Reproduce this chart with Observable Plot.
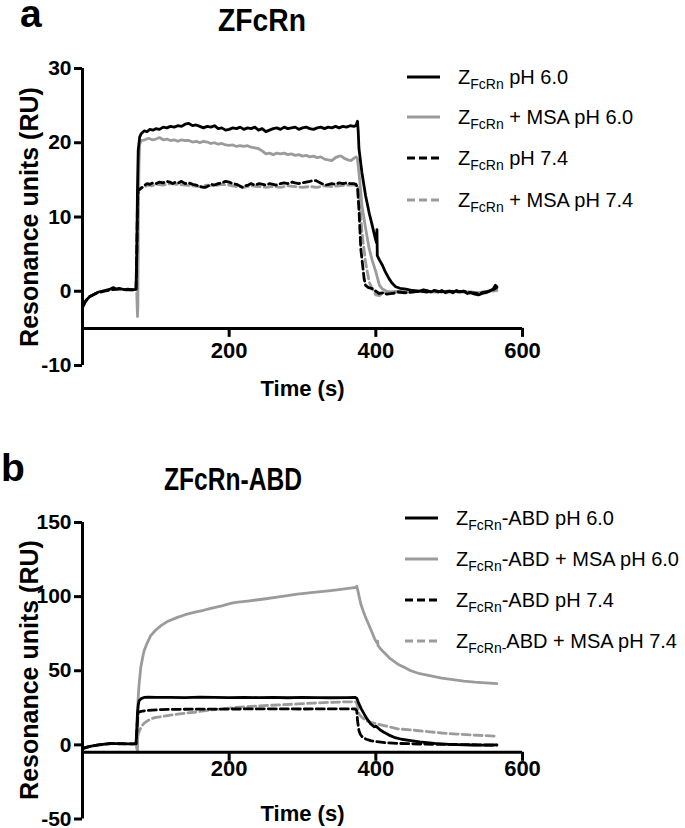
<!DOCTYPE html>
<html><head><meta charset="utf-8">
<script src="https://cdn.jsdelivr.net/npm/d3@7"></script>
<script src="https://cdn.jsdelivr.net/npm/@observablehq/plot@0.6"></script>
<style>
body{margin:0;background:#fff;}
#wrap{position:relative;width:685px;height:828px;font-family:"Liberation Sans",Arial,sans-serif;}
#wrap > svg{position:absolute;left:0;}
</style></head><body><div id="wrap"></div>
<script>
// ---- tick values ----
const xTicks = [200, 400, 600];
const aYTicks = [-10, 0, 10, 20, 30];
const bYTicks = [-50, 0, 50, 100, 150];
const xLabel = "Time (s)";
const yLabel = "Resonance units (RU)";

// ---- Panel a: ZFcRn  ([time s, RU]) ----
const aPH60 = [[0,-2.2],[2,-1.8],[4,-1.4],[7,-1.0],[10,-0.7],[14,-0.5],[18,-0.3],[22,-0.1],[26,0],[30,0.1],[34,0.2],[38,0.3],[42,0.5],[46,0.3],[50,0.4],[54,0.3],[58,0.2],[62,0.3],[66,0.2],[70,0.2],[73,0.3],
 [74,5],[75,14],[76,19],[78,20.8],[80,21.2],[84,21.6],[88,21.5],[92,21.8],[96,21.7],[100,21.9],[105,21.8],[110,22.1],[115,22.0],[120,22.2],[125,22.1],[130,22.3],[135,22.2],[140,22.5],[145,22.6],[150,22.3],[155,22.4],[160,22.2],[165,22.0],[170,22.2],[175,22.1],[180,22.3],[185,21.9],[190,22.0],[195,21.7],[200,21.8],[205,22.0],[210,21.9],[215,22.1],[220,21.8],[225,22.0],[230,21.9],[235,22.1],[240,21.7],[245,21.9],[250,21.5],[255,21.7],[260,21.9],[265,22.0],[270,21.8],[275,22.1],[280,21.9],[285,22.0],[290,22.1],[295,21.8],[300,22.0],[305,22.1],[310,21.9],[315,21.8],[320,22.0],[325,22.1],[330,21.9],[335,22.1],[340,22.0],[345,22.2],[350,22.0],[355,22.2],[360,22.1],[365,22.3],[370,22.2],[373,22.3],
 [375,22.9],[376,21.5],[377,19.2],[381,16],[386,12.9],[391,10.5],[395,8.9],[399,7.2],[401,6.5],[401.5,8.3],[402,4.8],[405,4.2],[409,3.5],[413,2.6],[418,1.7],[422,1.1],[427,0.6],[433,0.4],[441,0.3],[450,0.1],[459,0],[465,0.2],[470,0.1],[475,-0.1],[480,0.1],[485,-0.1],[490,0.1],[495,-0.2],[500,0],[505,-0.2],[510,0.1],[515,-0.1],[520,0],[525,-0.3],[530,-0.2],[535,-0.4],[540,-0.5],[545,-0.3],[550,-0.2],[555,0],[560,0.3],[563,0.8],[565,0.6]];
const aMSA60 = [[74,-0.3],[75,-3.4],[75.5,-2],[76,8],[77,17],[78,19.8],[80,20.3],[85,20.4],[90,20.6],[95,20.4],[100,20.5],[105,20.7],[110,20.4],[115,20.5],[120,20.3],[125,20.4],[130,20.2],[135,20.4],[140,20.3],[145,20.3],[150,20.1],[155,20.2],[160,20.0],[165,20.2],[170,20.1],[175,19.9],[180,20.0],[185,19.8],[190,19.9],[195,19.7],[200,19.65],[205,19.7],[210,19.5],[215,19.6],[220,19.5],[225,19.6],[230,19.4],[235,19.3],[240,19.2],[245,18.9],[250,18.5],[255,18.6],[260,18.4],[265,18.6],[270,18.5],[275,18.6],[280,18.4],[285,18.5],[290,18.3],[295,18.4],[300,18.2],[305,18.3],[310,18.1],[315,18.2],[320,18.0],[325,18.1],[330,17.8],[335,17.7],[340,17.6],[345,18.0],[350,18.2],[353,18.2],[357,17.9],[362,17.7],[366,17.6],[370,17.9],[373,18.1],[375,17.8],
 [378,15],[381,11.6],[386,8.5],[391,5.7],[395,4.2],[400,2.6],[403,1.5],[405,0.8],[409,0.3],[415,0],[420,-0.1],[430,0],[440,-0.1],[460,0],[480,-0.1],[500,0],[520,-0.1],[540,-0.2],[565,0.2]];
const aPH74 = [[0,-2],[5,-1.2],[10,-0.7],[20,-0.2],[30,0],[40,0.2],[50,0.3],[60,0.2],[70,0.2],[73,0.2],[74,5],[75,12],[76,13.6],[80,13.9],[84,14.2],[88,14.5],[92,14.4],[96,14.6],[100,14.5],[105,14.7],[110,14.6],[115,14.8],[119,14.7],[123,14.5],[127,14.7],[131,14.6],[135,14.8],[140,14.5],[145,14.6],[150,14.4],[155,14.3],[160,14.1],[165,14.0],[168,14.0],[172,14.2],[176,14.4],[180,14.3],[185,14.5],[190,14.6],[195,14.8],[200,14.7],[205,14.5],[210,14.4],[214,14.2],[218,14.0],[222,14.2],[226,14.3],[230,14.5],[235,14.3],[241,14.5],[246,14.4],[250,14.3],[255,14.5],[260,14.4],[264,14.3],[270,14.5],[275,14.6],[280,14.5],[286,14.7],[290,14.6],[295,14.5],[300,14.6],[305,14.7],[310,14.8],[314,14.9],[318,14.9],[322,14.7],[326,14.5],[332,14.3],[336,14.4],[340,14.5],[345,14.4],[350,14.6],[355,14.5],[360,14.6],[365,14.5],[370,14.5],[373,14.4],
 [375,14],[377,11],[379.5,5.7],[382,3.5],[384,1.7],[386,0.8],[390,0.5],[395.5,0.35],[400,0],[404.5,-0.3],[410,-0.2],[415,-0.4],[423,-0.3],[430,-0.1],[440,-0.2],[450,-0.1],[460,0],[470,-0.1],[480,0.1],[490,-0.1],[500,0],[510,-0.1],[520,0],[530,-0.2],[540,-0.3],[550,-0.1],[560,0.2],[565,0.5]];
const aMSA74 = [[74,0.2],[75,10],[76,13.5],[80,13.9],[85,14.1],[90,14.3],[95,14.2],[100,14.4],[110,14.3],[120,14.5],[130,14.4],[140,14.3],[150,14.2],[160,14.1],[170,14.3],[180,14.2],[190,14.4],[200,14.3],[210,14.1],[220,14.0],[230,14.2],[240,14.1],[250,14.0],[260,14.1],[270,14.0],[280,14.2],[290,14.1],[300,14.0],[310,14.1],[320,14.0],[330,14.2],[340,14.1],[350,14.2],[360,14.3],[370,14.3],[375,14.2],
 [377,13.8],[381,8],[386,3.9],[391,1.25],[395,0.3],[400,-0.5],[405,-0.6],[409,-0.3],[415,-0.2],[420,-0.3],[430,-0.1],[440,-0.2],[450,0],[460,-0.1],[480,0],[500,-0.1],[520,0],[540,-0.2],[565,0.1]];

// ---- Panel b: ZFcRn-ABD ----
const bPH60 = [[0,-2.7],[3,-2.0],[6,-1.5],[10,-1.0],[16,-0.5],[22,0],[30,0.5],[38,1],[46,0.8],[54,0.9],[62,0.7],[70,0.7],[73,0.8],[74,10],[75,22],[76,27],[77.2,29.8],[80,31.2],[84,32],[90,32.2],[100,32],[120,32.1],[140,31.9],[160,32.2],[180,32],[200,31.9],[220,32.1],[240,31.9],[260,32],[280,31.8],[300,32],[320,31.9],[340,31.8],[360,31.9],[372,32],
 [374,31.5],[377,27.6],[380,24.5],[384,20.9],[388,17.5],[393,14.1],[398,12.2],[400,12.6],[402,11.9],[406,10],[411,8.5],[418,6.6],[425,5.1],[435,3.8],[447.7,2.9],[460,2.0],[470,1.5],[480,1.0],[490,0.7],[500,0.4],[510,0.2],[520,0],[530,-0.1],[540,-0.2],[550,-0.2],[560,-0.1],[565,0]];
const bMSA60 = [[74,-1],[75,-5],[75.7,29.9],[77,40],[79.5,52.3],[82,59],[84,63.5],[88,68.5],[93,73.7],[100,77.5],[107,80.4],[115,83],[129.5,86],[140,87.8],[152,89.4],[165,90.8],[175,92],[190,93.8],[202,95.4],[209,96.1],[225,97],[247.6,98.4],[270,100],[293,101.7],[315,102.8],[338.6,104],[355,105],[372.7,106.2],[374,107],
 [376,103],[379.5,95],[383,90],[386,86],[390,81.5],[393,78],[398,72],[400,70],[402,68.5],[402.5,70],[403,67],[406,65],[411,62.4],[420,58],[429.5,54.6],[440,52],[447.7,50],[460,48],[475,46.5],[490,45],[505,44],[520,43],[535,42.3],[550,41.8],[565,41.3]];
const bPH74 = [[0,-2.5],[10,-1],[22,0],[40,0.8],[60,0.7],[73,0.7],[74,8],[75,18],[76,22],[80,22.6],[86,23],[95,23.5],[107,23.8],[130,24],[160,24.1],[209,24.2],[250,24.3],[300,24.2],[350,24.3],[372,24.2],
 [374,23],[375,16.4],[377,9.6],[379,7],[382,5.1],[387,3.8],[393,2.9],[400,2.2],[406.8,1.8],[415,1.4],[429.5,1.0],[445,0.8],[460,0.6],[480,0.4],[500,0.3],[520,0.2],[540,0],[565,-0.2]];
const bMSA74 = [[74,-2],[75,4],[76,7.4],[78,10],[80,12],[83,14.1],[88,16],[93,17.5],[100,18.5],[116,19.7],[130,20.8],[152,22],[175,23.5],[209,25.3],[230,26],[247.6,26.5],[270,27],[293,27.6],[315,28.2],[338.6,28.7],[360,29],[372.7,29],
 [374,28],[377,20.9],[380,19],[384,17.5],[388,16.2],[393,15.2],[400,14.3],[411,13],[420,12],[429.5,10.8],[447.7,10.1],[470,9],[490,8],[510,7.3],[530,6.7],[550,6.2],[565,5.8]];

// ---- legend labels: [main, subscript, rest] ----
const aLegend = [["Z","FcRn"," pH 6.0"],["Z","FcRn"," + MSA pH 6.0"],["Z","FcRn"," pH 7.4"],["Z","FcRn"," + MSA pH 7.4"]];
const bLegend = [["Z","FcRn","-ABD pH 6.0"],["Z","FcRn","-ABD + MSA pH 6.0"],["Z","FcRn","-ABD pH 7.4"],["Z","FcRn-","ABD + MSA pH 7.4"]];
const aTitle = "ZFcRn", bTitle = "ZFcRn-ABD";

const BLACK = "#000", GRAY = "#9b9b9b", DASH = "8,4";
const styles = [
  {stroke: BLACK, dash: null},
  {stroke: GRAY, dash: null},
  {stroke: BLACK, dash: DASH},
  {stroke: GRAY, dash: DASH}
];
const FONT = "'Liberation Sans', Arial, sans-serif";

function panel(series, yDomain, yTicks, opts) {
  const lineMark = (data, s) => Plot.line(data, {x: d => d[0], y: d => d[1], stroke: s.stroke, strokeWidth: 2.8, strokeDasharray: s.dash, strokeLinejoin: "round"});
  return Plot.plot({
    width: 685, height: 414,
    marginLeft: 82, marginRight: 163, marginTop: opts.mt, marginBottom: opts.mb,
    x: {domain: [0, 600], axis: null},
    y: {domain: yDomain, axis: null},
    style: {fontFamily: FONT, color: "#000", background: "transparent", overflow: "visible"},
    marks: [
      // drawing order: gray solid, gray dashed, black dashed, black solid
      lineMark(series[1], styles[1]),
      lineMark(series[3], styles[3]),
      lineMark(series[2], styles[2]),
      lineMark(series[0], styles[0]),
      // y axis
      Plot.ruleX([0], {y1: yDomain[0], y2: yDomain[1], strokeWidth: 3}),
      Plot.axisY(yTicks, {tickSize: 8, strokeWidth: 3, tickPadding: 3, fontSize: 21, fontWeight: "bold", tickFormat: d => String(d), label: null}),
      // x axis at y = -5
      Plot.ruleY([-5], {x1: 0, x2: 600, strokeWidth: 3}),
      Plot.ruleX(xTicks, {x: d => d, y1: -5, y2: -5, insetBottom: -9, strokeWidth: 3}),
      Plot.text(xTicks, {x: d => d, y: -5, dy: opts.tickDy, text: d => String(d), fontSize: 22, fontWeight: "bold"}),
      Plot.text([xLabel], {text: d => d, frameAnchor: "bottom", dy: opts.labelDy, fontSize: 22, fontWeight: "bold"})
    ]
  });
}

const wrap = document.getElementById("wrap");
const pa = panel([aPH60, aMSA60, aPH74, aMSA74], [-10, 30], aYTicks, {mt: 68, mb: 49, tickDy: 23, labelDy: 30});
pa.style.top = "0px";
wrap.appendChild(pa);
const pb = panel([bPH60, bMSA60, bPH74, bMSA74], [-50, 150], bYTicks, {mt: 108, mb: 9.5, tickDy: 17, labelDy: 1.5});
pb.style.top = "414px";
wrap.appendChild(pb);

// overlay: titles, y labels and legends
const ov = d3.select(wrap).append("svg").attr("width", 685).attr("height", 828)
  .style("top", "0px").style("font-family", FONT);

function ylab(cy) {
  ov.append("text").attr("transform", `translate(29,${cy}) rotate(-90)`)
    .attr("text-anchor", "middle").attr("dominant-baseline", "central")
    .attr("font-size", 25).attr("font-weight", "bold").text(yLabel);
}
ylab(217);
ylab(670);

function title(letter, lx, ly, name, tx, ty, len) {
  ov.append("text").attr("x", lx).attr("y", ly).attr("font-size", 39).attr("font-weight", "bold").text(letter);
  ov.append("text").attr("x", tx).attr("y", ty).attr("font-weight", "bold").attr("font-size", 31)
    .attr("textLength", len).attr("lengthAdjust", "spacingAndGlyphs").text(name);
}
title("a", 20, 27, aTitle, 218, 31, 88);
title("b", 1, 481, bTitle, 164, 490, 138);

function legend(x0, rowsY, labels) {
  labels.forEach((lab, i) => {
    const y = rowsY[i], s = styles[i];
    ov.append("line").attr("x1", x0).attr("x2", x0 + 33).attr("y1", y).attr("y2", y)
      .attr("stroke", s.stroke).attr("stroke-width", 3).attr("stroke-dasharray", s.dash);
    const t = ov.append("text").attr("x", x0 + 51).attr("y", y + 7).attr("font-size", 20).style("white-space", "pre");
    t.append("tspan").text(lab[0]);
    t.append("tspan").attr("font-size", 14).attr("dy", 5).text(lab[1]);
    t.append("tspan").attr("dy", -5).text(lab[2]);
  });
}
legend(407, [77, 117, 158, 200], aLegend);
legend(405, [518, 559, 600, 641], bLegend);
</script>
</body></html>
